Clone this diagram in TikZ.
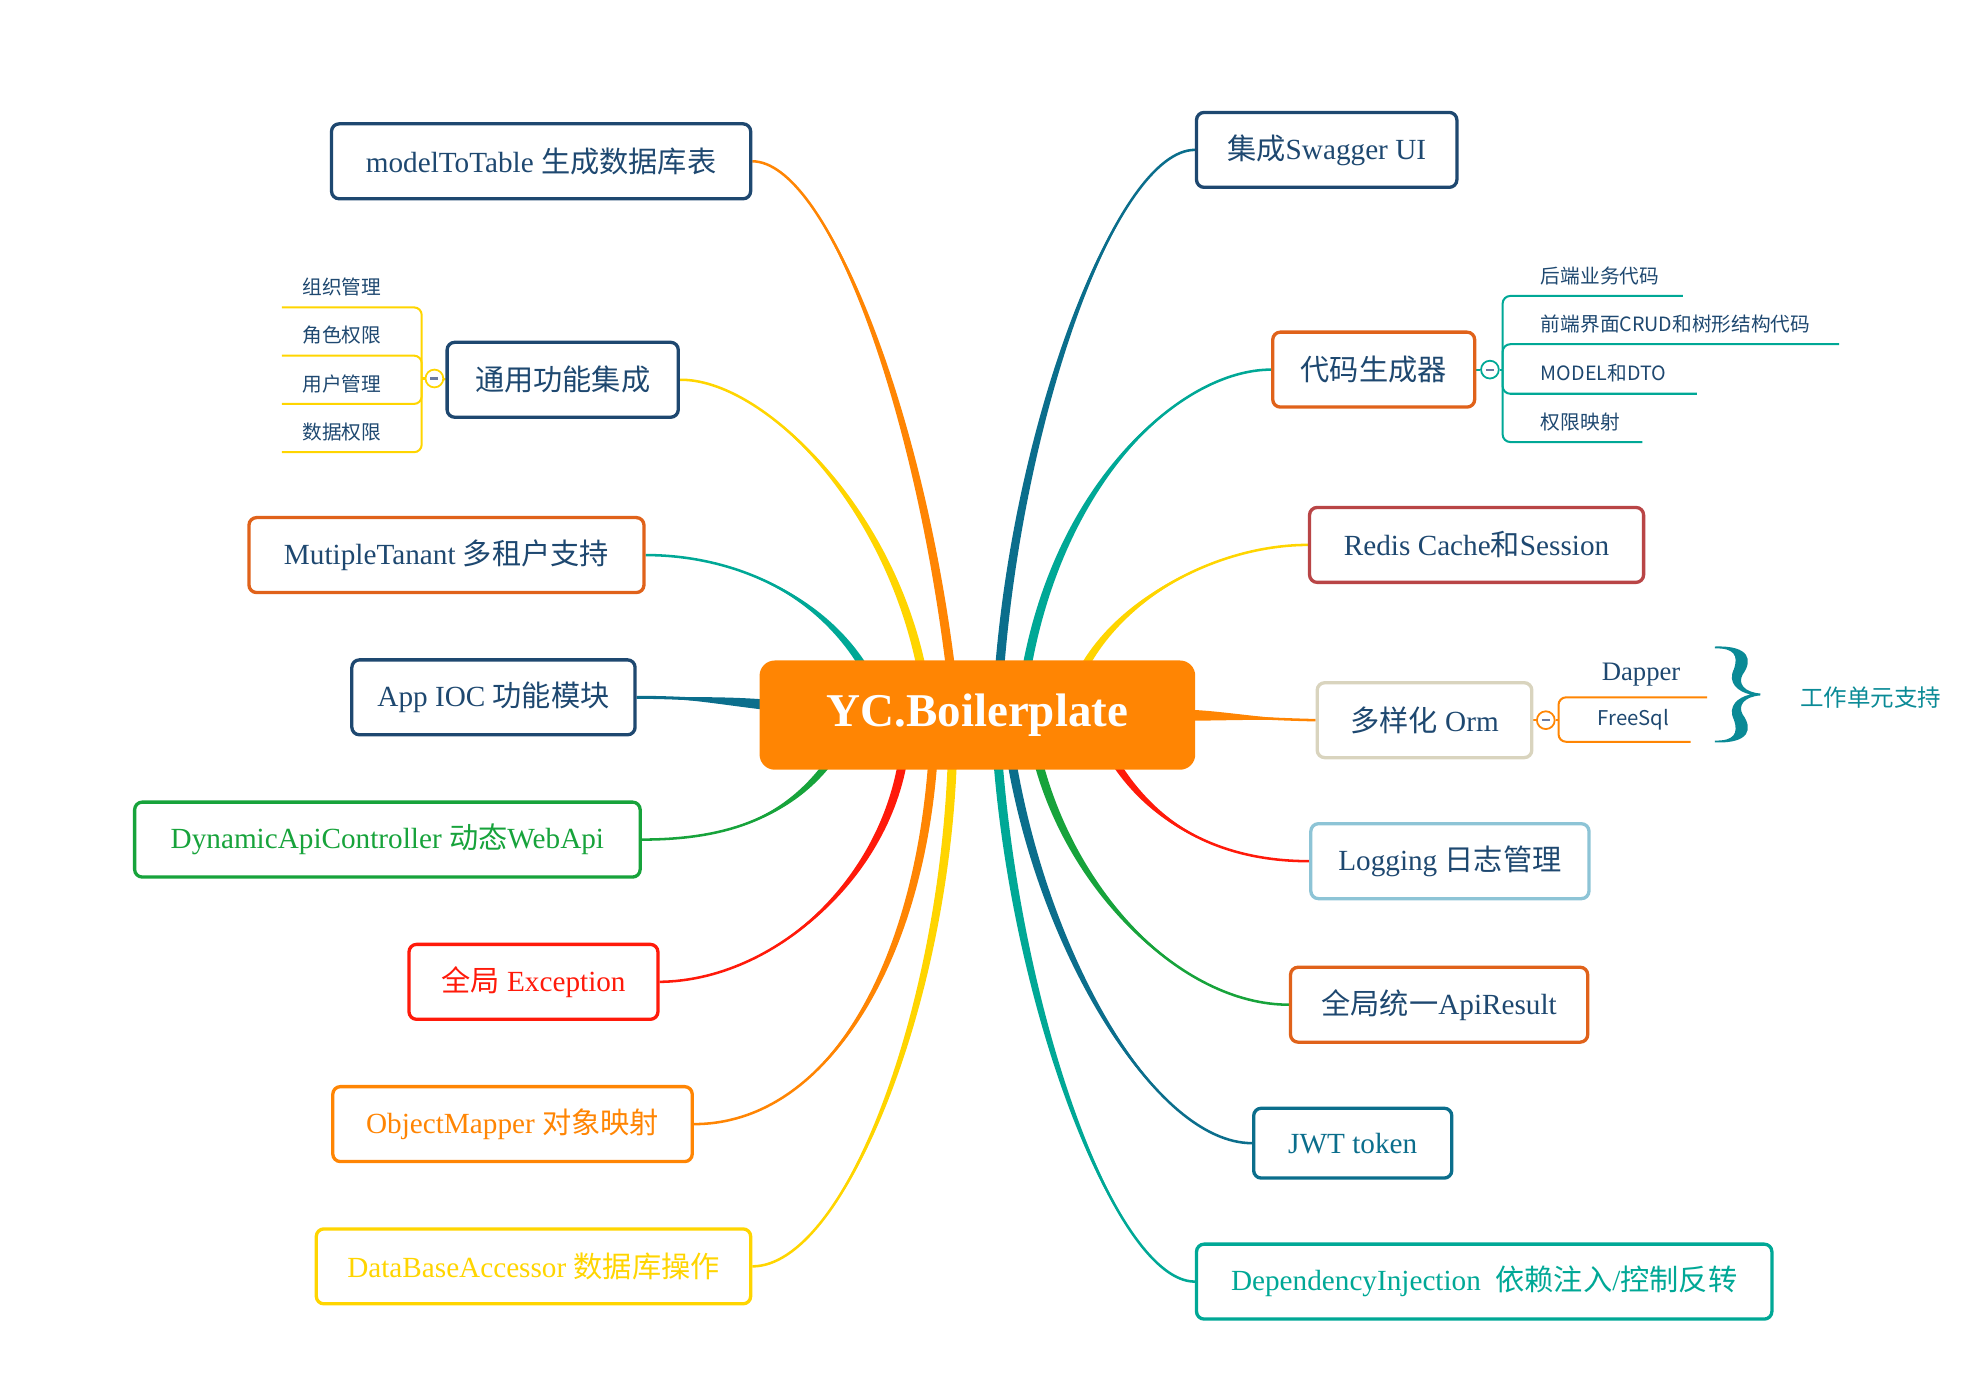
\documentclass[tikz,border=0pt]{standalone}
\usepackage{fontspec}
\setmainfont{Liberation Serif}
\newfontfamily\cjk{Noto Sans CJK SC}
\usetikzlibrary{calc,backgrounds}
\definecolor{cNavy}{HTML}{1E4870}
\definecolor{cOrange}{HTML}{FF8503}
\definecolor{cOrangeB}{HTML}{E0621A}
\definecolor{cYellow}{HTML}{FFD500}
\definecolor{cTeal}{HTML}{00A896}
\definecolor{cDTeal}{HTML}{0B6E8C}
\definecolor{cGreen}{HTML}{17A33B}
\definecolor{cRed}{HTML}{FF1A0A}
\definecolor{cBrick}{HTML}{B94546}
\definecolor{cBeige}{HTML}{D9D4BE}
\definecolor{cLBlue}{HTML}{8DC4D6}
\definecolor{cBrace}{HTML}{0A8A96}
\definecolor{cMinus}{HTML}{6B7BA0}
\newcommand\zh[1]{{\cjk #1}}
\newcommand\taper[7]{%
  \fill[#1] (#2) .. controls (#3) and ($(#4)+(#6)$) .. ($(#5)+(#6)$) -- ($(#5)-(#6)$) .. controls ($(#4)-(#6)$) and (#3) .. (#2) -- cycle;
  \draw[#1, line width=#7] (#2) .. controls (#3) and (#4) .. (#5);
}
\tikzset{
  box/.style={draw, line width=2.6, rounded corners=6, fill=white, minimum height=59, inner sep=0,
    font=\fontsize{23}{27}\selectfont, text=cNavy},
  subtext/.style={anchor=west, inner sep=0, font=\cjk\fontsize{15.5}{18}\selectfont, text=cNavy},
  tog/.style={circle, draw=#1, line width=1.4, fill=white, minimum size=14, inner sep=0},
  minusbar/.style={line width=1.6, draw=cMinus},
  subline/.style={draw=#1, line width=1.6, rounded corners=6},
}
\begin{document}
\begin{tikzpicture}[x=1pt,y=-1pt]
\useasboundingbox (0,0) rectangle (1562,1094);

% ---------- nodes ----------
\node[fill=cOrange, rounded corners=12, minimum width=343, minimum height=86, inner sep=0, text=white,
  font=\bfseries\fontsize{37}{40}\selectfont] (root) at (769.5,563) {YC.Boilerplate};

% left
\node[box, draw=cNavy, minimum width=330] (mtt) at (426,127) {modelToTable \zh{生成数据库表}};
\node[box, draw=cNavy, minimum width=182] (gen) at (443,299) {\zh{通用功能集成}};
\node[box, draw=cOrangeB, minimum width=311] (mt) at (351.5,437) {MutipleTanant \zh{多租户支持}};
\node[box, draw=cNavy, minimum width=223] (ioc) at (388.5,549) {App IOC \zh{功能模块}};
\node[box, draw=cGreen, text=cGreen, minimum width=398] (dyn) at (305,661) {DynamicApiController \zh{动态}WebApi};
\node[box, draw=cRed, text=cRed, minimum width=196] (exc) at (420,773) {\zh{全局} Exception};
\node[box, draw=cOrange, text=cOrange, minimum width=283] (om) at (403.5,885) {ObjectMapper \zh{对象映射}};
\node[box, draw=cYellow, text=cYellow, minimum width=342] (dba) at (420,997) {DataBaseAccessor \zh{数据库操作}};

% right
\node[box, draw=cNavy, minimum width=205] (sw) at (1044.5,118) {\zh{集成}Swagger UI};
\node[box, draw=cOrangeB, minimum width=159] (cg) at (1081.5,291) {\zh{代码生成器}};
\node[box, draw=cBrick, minimum width=263] (rd) at (1162.5,429) {Redis Cache\zh{和}Session};
\node[box, draw=cBeige, minimum width=169] (orm) at (1121.5,567) {\zh{多样化} Orm};
\node[box, draw=cLBlue, minimum width=219] (log) at (1141.5,678) {Logging \zh{日志管理}};
\node[box, draw=cOrangeB, minimum width=234] (api) at (1133,791) {\zh{全局统一}ApiResult};
\node[box, draw=cDTeal, text=cDTeal, minimum width=156, minimum height=55] (jwt) at (1065,900) {JWT token};
\node[box, draw=cTeal, text=cTeal, minimum width=453] (di) at (1168.5,1009) {DependencyInjection\ \ \zh{依赖注入}/\zh{控制反转}};

% end points inside the root
\coordinate (eMtt) at (750,540);
\coordinate (eGen) at (728,540);
\coordinate (eMt) at (684,532);
\coordinate (eIoc) at (615,556);
\coordinate (eDyn) at (657,594);
\coordinate (eExc) at (712,590);
\coordinate (eOm) at (735,590);
\coordinate (eDba) at (750,590);
\coordinate (eSw) at (786,540);
\coordinate (eCg) at (806,540);
\coordinate (eRd) at (850,532);
\coordinate (eOrm) at (925,563);
\coordinate (eLog) at (873,592);
\coordinate (eApi) at (815,590);
\coordinate (eJwt) at (795,590);
\coordinate (eDi) at (785,590);

% toggles
\node[tog=cYellow] (gt) at (342,298) {};
\node[tog=cTeal] (ct) at (1173,291) {};
\node[tog=cOrange] (ot) at (1217,567) {};
\foreach \t in {gt,ct,ot} \draw[minusbar] ($(\t)-(3.2,0)$) -- ($(\t)+(3.2,0)$);

% sub items: general functions
\coordinate (gs) at (332,298);
\coordinate (g1) at (222,242);
\coordinate (g2) at (222,280);
\coordinate (g3) at (222,318);
\coordinate (g4) at (222,356);
\node[subtext] (gi1) at (238,226) {组织管理};
\node[subtext] (gi2) at (238,264) {角色权限};
\node[subtext] (gi3) at (238,302) {用户管理};
\node[subtext] (gi4) at (238,340) {数据权限};

% sub items: code generator
\coordinate (cs) at (1183,291);
\coordinate (c1) at (1325,233);
\coordinate (c2) at (1448,271);
\coordinate (c3) at (1336,310);
\coordinate (c4) at (1293,348);
\node[subtext] (ci1) at (1213,217) {后端业务代码};
\node[subtext] (ci2) at (1213,255) {前端界面CRUD和树形结构代码};
\node[subtext] (ci3) at (1213,294) {MODEL和DTO};
\node[subtext] (ci4) at (1213,332) {权限映射};

% sub items: orm
\coordinate (os) at (1227,567);
\coordinate (o1) at (1344,549);
\coordinate (o2) at (1331,584);
\node[inner sep=0, font=\fontsize{21}{24}\selectfont, text=cNavy] (dap) at (1292,531) {Dapper};
\node[inner sep=0, font=\cjk\fontsize{16}{19}\selectfont, text=cNavy] (fs) at (1286,567) {FreeSql};
\node[inner sep=0, text=cBrace, font=\cjk\fontsize{18.5}{22}\selectfont] (uow) at (1473,549) {工作单元支持};

% curly brace (calligraphic, drawn as filled shape)
\fill[cBrace] (1350,509) .. controls (1378,508) and (1380,520) .. (1372,531)
  .. controls (1368,538) and (1373,545) .. (1386,546) -- (1386,547.5)
  .. controls (1373,548.5) and (1368,555.5) .. (1372,562.5)
  .. controls (1380,573.5) and (1378,585.5) .. (1350,584.5) -- (1350,583)
  .. controls (1365,583.5) and (1369,577.5) .. (1365,566.5)
  .. controls (1360,556) and (1368,549) .. (1378,546.75)
  .. controls (1368,544.5) and (1360,537.5) .. (1365,527)
  .. controls (1369,516) and (1365,510) .. (1350,510.5) -- cycle;

% ---------- connectors ----------
\begin{scope}[on background layer]
  \taper{cOrange}{mtt.east}{650,127}{725,320}{eMtt}{3.6,0}{2}
  \taper{cYellow}{gen.east}{600,298}{705,400}{eGen}{3.6,0}{2}
  \taper{cTeal}{mt.east}{580,437}{650,470}{eMt}{3.6,0}{2}
  \taper{cDTeal}{ioc.east}{540,549}{575,552}{eIoc}{0,4.2}{2.4}
  \taper{cGreen}{dyn.east}{570,661}{622,645}{eDyn}{3.6,0}{2}
  \taper{cRed}{exc.east}{610,772}{700,690}{eExc}{3.6,0}{2}
  \taper{cOrange}{om.east}{650,885}{725,760}{eOm}{3.6,0}{2}
  \taper{cYellow}{dba.east}{665,997}{745,790}{eDba}{3.6,0}{2}

  \taper{cDTeal}{sw.west}{880,118}{800,330}{eSw}{3.6,0}{2}
  \taper{cTeal}{cg.west}{930,291}{830,380}{eCg}{3.6,0}{2}
  \taper{cYellow}{rd.west}{960,429}{880,470}{eRd}{3.6,0}{2}
  \taper{cOrange}{orm.west}{990,566}{960,563}{eOrm}{0,4.5}{2}
  \taper{cRed}{log.west}{950,678}{900,640}{eLog}{3.6,0}{2}
  \taper{cGreen}{api.west}{930,791}{840,700}{eApi}{3.6,0}{2}
  \taper{cDTeal}{jwt.west}{910,900}{820,750}{eJwt}{3.6,0}{2}
  \taper{cTeal}{di.west}{880,1009}{800,800}{eDi}{3.6,0}{2}

  \draw[subline=cYellow] (gt.west) -- (gs);
  \foreach \p in {g1,g2,g3,g4} \draw[subline=cYellow] (gs) |- (\p);
  \draw[subline=cTeal] (ct.east) -- (cs);
  \foreach \p in {c1,c2,c3,c4} \draw[subline=cTeal] (cs) |- (\p);
  \draw[subline=cOrange] (orm.east) -- (ot.west);
  \draw[subline=cOrange] (ot.east) -- (os);
  \foreach \p in {o1,o2} \draw[subline=cOrange] (os) |- (\p);
  \draw[subline=cYellow] (gen.west) -- (gt.east);
  \draw[subline=cTeal] (cg.east) -- (ct.west);
\end{scope}
\end{tikzpicture}
\end{document}
